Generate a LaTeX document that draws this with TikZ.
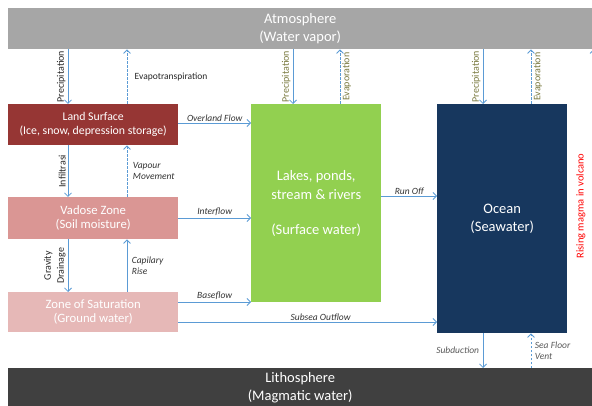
\documentclass[tikz,border=0pt]{standalone}
\usepackage{fontspec}
\setmainfont{Carlito}
\usetikzlibrary{arrows.meta,positioning,calc}

\definecolor{flowblue}{HTML}{5B9BD5}
\definecolor{atmgray}{HTML}{A6A6A6}
\definecolor{lithgray}{HTML}{404040}
\definecolor{landred}{HTML}{963634}
\definecolor{vadosered}{HTML}{DA9694}
\definecolor{satred}{HTML}{E6B8B7}
\definecolor{lakegreen}{HTML}{92D050}
\definecolor{oceanblue}{HTML}{17375E}
\definecolor{olive}{HTML}{7A7A40}

\tikzset{
  layer/.style={anchor=north west, inner sep=0pt, text=white, align=center, font=\fontsize{14.5}{18}\selectfont},
  zone/.style={anchor=north west, inner sep=0pt, text=white, align=center, font=\fontsize{12.7}{14.5}\selectfont},
  flow/.style={draw=flowblue, line width=0.8pt, -{Straight Barb[length=3.5pt,width=7pt]}},
  vapour/.style={flow, dashed, dash pattern=on 2.5pt off 1.5pt},
  lbl/.style={font=\fontsize{9.5}{11.5}\selectfont\itshape, text=black!80, inner sep=1.5pt},
  vlbl/.style={font=\fontsize{10}{13}\selectfont, text=black!80, rotate=90, inner sep=2pt},
}

\begin{document}
\begin{tikzpicture}[x=1pt,y=-1pt]
\useasboundingbox (0,0) rectangle (592,406);

% layers
\node[layer, fill=atmgray, minimum width=584pt, minimum height=41pt] (atm) at (8,8)
  {Atmosphere\\(Water vapor)};
\node[layer, fill=lithgray, minimum width=584pt, minimum height=40pt] (lith) at (8,368)
  {Lithosphere\\(Magmatic water)};

% zones of the land
\node[zone, fill=landred, minimum width=170pt, minimum height=41pt,
  font=\fontsize{11.8}{14}\selectfont] (land) at (8,104)
  {Land Surface\\(Ice, snow, depression storage)};
\node[zone, fill=vadosered, minimum width=170pt, minimum height=42pt] (vadose) at (8,197)
  {Vadose Zone\\(Soil moisture)};
\node[zone, fill=satred, minimum width=170pt, minimum height=40pt] (sat) at (8,292)
  {Zone of Saturation\\(Ground water)};

% water bodies
\node[zone, fill=lakegreen, minimum width=130pt, minimum height=198pt,
  font=\fontsize{14.5}{19}\selectfont] (lakes) at (251,104)
  {Lakes, ponds,\\stream \& rivers\\[16pt](Surface water)};
\node[zone, fill=oceanblue, minimum width=130pt, minimum height=229pt,
  font=\fontsize{14.5}{18}\selectfont] (ocean) at (437,104)
  {Ocean\\(Seawater)};

\node[font=\fontsize{10.5}{12}\selectfont, text=red, rotate=90] (magma) at (581,206) {Rising magma in volcano};

% land column
\draw[flow] ([xshift=60pt]atm.south west) -- ([xshift=60pt]land.north west)
  node[vlbl, midway, anchor=south, text=black!85] {Precipitation};
\draw[vapour] ([xshift=119pt]land.north west) -- ([xshift=119pt]atm.south west)
  node[midway, right, font=\fontsize{9.5}{11}\selectfont, text=black!85, xshift=4pt] {Evapotranspiration};
\draw[flow] ([xshift=60pt]land.south west) -- ([xshift=60pt]vadose.north west)
  node[vlbl, midway, anchor=south, text=black!85] {Infiltrasi};
\draw[vapour] ([xshift=119pt]vadose.north west) -- ([xshift=119pt]land.south west)
  node[lbl, midway, right, align=left, xshift=4pt] {Vapour\\Movement};
\draw[flow] ([xshift=60pt]vadose.south west) -- ([xshift=60pt]sat.north west)
  node[vlbl, midway, anchor=south, align=center, text=black!85] {Gravity\\Drainage};
\draw[flow] ([xshift=119pt]sat.north west) -- ([xshift=119pt]vadose.south west)
  node[lbl, midway, right, align=left, xshift=3pt] {Capilary\\Rise};

% lateral flows
\draw[flow] ([yshift=-19pt]land.north east) -- ([yshift=-19pt]land.north east -| lakes.west)
  node[lbl, midway, above] {Overland Flow};
\draw[flow] ([yshift=-21pt]vadose.north east) -- ([yshift=-21pt]vadose.north east -| lakes.west)
  node[lbl, midway, above] {Interflow};
\draw[flow] ([yshift=-10pt]sat.north east) -- ([yshift=-10pt]sat.north east -| lakes.west)
  node[lbl, midway, above] {Baseflow};
\draw[flow] ([yshift=-30pt]sat.north east) -- ([yshift=-30pt]sat.north east -| ocean.west)
  node[lbl, pos=0.55, above] {Subsea Outflow};
\draw[flow] ([yshift=-92pt]lakes.north east) -- ([yshift=-92pt]lakes.north east -| ocean.west)
  node[lbl, midway, above] {Run Off};

% lakes and ocean exchange
\draw[flow] ([xshift=42pt]lakes.north west |- atm.south) -- ([xshift=42pt]lakes.north west)
  node[vlbl, midway, anchor=south, text=olive] {Precipitation};
\draw[vapour] ([xshift=89pt]lakes.north west) -- ([xshift=89pt]lakes.north west |- atm.south)
  node[vlbl, midway, anchor=north, text=olive] {Evaporation};
\draw[flow] ([xshift=46pt]ocean.north west |- atm.south) -- ([xshift=46pt]ocean.north west)
  node[vlbl, midway, anchor=south, text=olive] {Precipitation};
\draw[vapour] ([xshift=94pt]ocean.north west) -- ([xshift=94pt]ocean.north west |- atm.south)
  node[vlbl, midway, anchor=north, text=olive] {Evaporation};
\draw[flow] ([xshift=46pt]ocean.south west) -- ([xshift=46pt]ocean.south west |- lith.north)
  node[lbl, midway, left, text=black!65, xshift=-2pt] {Subduction};
\draw[vapour] ([xshift=94pt]ocean.south west |- lith.north) -- ([xshift=94pt]ocean.south west)
  node[lbl, midway, right, align=left, text=black!65, xshift=2pt] {Sea Floor\\Vent};

% volcano rise, mostly past the edge
\coordinate (vent) at (593.5,368);
\draw[vapour] (vent) -- (vent |- atm.south);
\end{tikzpicture}
\end{document}
